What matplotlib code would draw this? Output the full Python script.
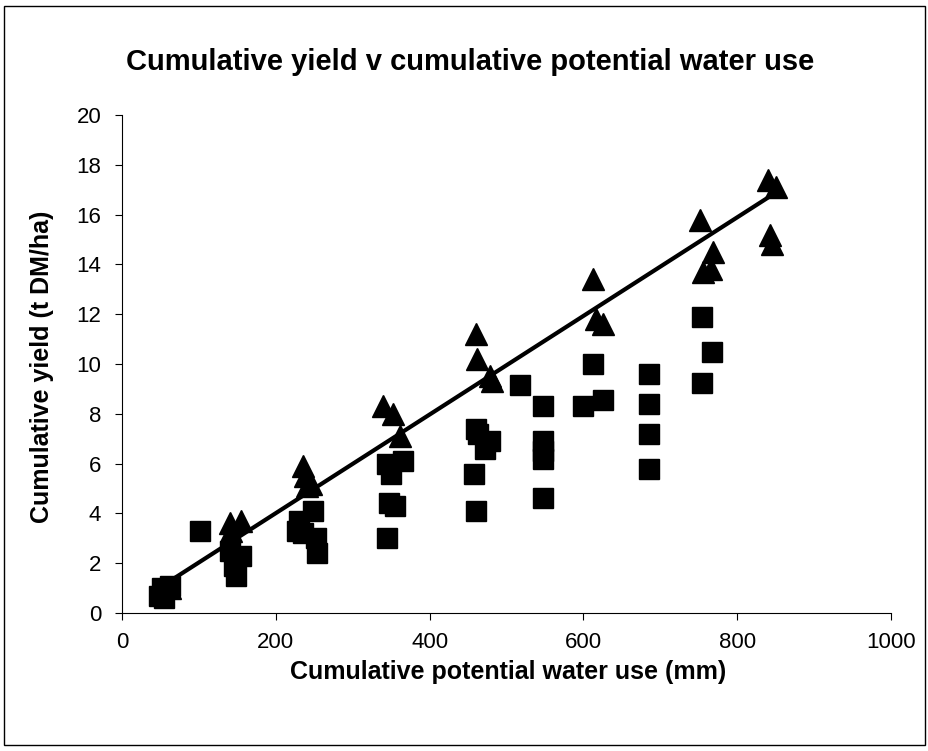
import numpy as np
import matplotlib.pyplot as plt
from matplotlib.patches import Rectangle

plt.rcParams['font.family'] = ['Liberation Sans', 'DejaVu Sans']

# triangles (upper series)
tri_x = [62, 140, 155, 142, 235, 238, 241, 246, 340, 352, 361,
         460, 461, 478, 481, 612, 616, 626, 752, 756, 766, 768,
         840, 851, 843, 845]
tri_y = [1.0, 3.6, 3.7, 3.3, 5.9, 5.5, 5.1, 5.2, 8.3, 8.0, 7.1,
         11.2, 10.2, 9.5, 9.3, 13.4, 11.8, 11.6, 15.8, 13.7, 13.8, 14.5,
         17.4, 17.1, 15.2, 14.8]

# squares (lower series)
sq_x = [48, 55, 62, 52, 101, 140, 145, 148, 155,
        230, 227, 236, 249, 252, 253,
        345, 350, 347, 355, 345, 365,
        460, 463, 472, 478, 458, 460, 517,
        548, 548, 548, 548, 548, 600, 613, 626,
        685, 685, 685, 685, 754, 767, 754]
sq_y = [0.7, 0.6, 1.1, 1.0, 3.3, 2.5, 1.9, 1.5, 2.3,
        3.7, 3.3, 3.2, 4.1, 3.0, 2.4,
        6.0, 5.6, 4.4, 4.3, 3.0, 6.1,
        7.4, 7.2, 6.6, 6.9, 5.6, 4.1, 9.15,
        8.3, 6.9, 6.5, 6.2, 4.6, 8.3, 10.0, 8.55,
        9.6, 8.4, 7.2, 5.8, 11.9, 10.5, 9.25]

# trend line
trend_slope = 0.0198
trend_intercept = 0.05
trend_range = [62, 852]

line_x = np.array(trend_range)

fig = plt.figure(figsize=(9.29, 7.51), dpi=100)
ax = fig.add_axes([122 / 929, 1 - 613 / 751, (891 - 122) / 929, (613 - 115) / 751])

ax.plot(sq_x, sq_y, 's', color='black', markersize=14, zorder=3)
ax.plot(tri_x, tri_y, '^', color='black', markersize=16, zorder=3)
ax.plot(line_x, trend_slope * line_x + trend_intercept, color='black', linewidth=3, zorder=4)

ax.set_xlim(0, 1000)
ax.set_ylim(0, 20)
ax.set_xticks(range(0, 1001, 200))
ax.set_yticks(range(0, 21, 2))
ax.spines['top'].set_visible(False)
ax.spines['right'].set_visible(False)
ax.tick_params(direction='out', length=5, labelsize=16)
ax.tick_params(axis='x', pad=9)
ax.tick_params(axis='y', pad=10)
ax.set_xlabel('Cumulative potential water use (mm)', fontsize=18, fontweight='bold')
ax.set_ylabel('Cumulative yield (t DM/ha)', fontsize=18, fontweight='bold')
ax.xaxis.set_label_coords(0.502, -0.095)
ax.yaxis.set_label_coords(-0.088, 0.494)

fig.text(470 / 929, 1 - 62 / 751, 'Cumulative yield v cumulative potential water use',
         ha='center', va='center', fontsize=21, fontweight='bold')

fig.patches.append(Rectangle((4 / 929, 6 / 751), 921 / 929, 739 / 751, transform=fig.transFigure,
                             fill=False, edgecolor='black', linewidth=1))

fig.savefig('out.png', dpi=100)
